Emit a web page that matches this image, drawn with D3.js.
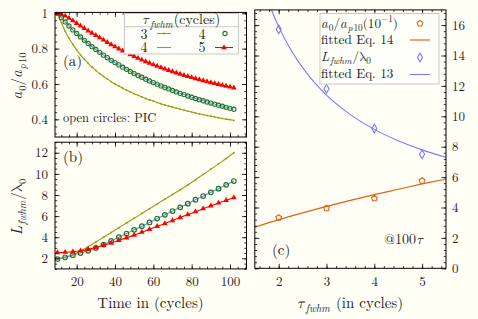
<!DOCTYPE html>
<html><head><meta charset="utf-8">
<script src="https://cdn.jsdelivr.net/npm/d3@7/dist/d3.min.js"></script>
<style>
body{margin:0;background:#fffff6;}
svg{display:block;}
</style></head><body>
<svg id="c" width="478" height="319"></svg>
<script>
// ---------- data ----------
const timeA = [10,12,14,16,18,20,22,24,26,28,30,32,34,36,38,40,42,44,46,48,50,52,54,56,58,60,62,64,66,68,70,72,74,76,78,80,82,84,86,88,90,92,94,96,98,100,102];
const olive3A = [1.000,0.946,0.899,0.859,0.824,0.793,0.765,0.740,0.717,0.696,0.677,0.659,0.643,0.628,0.613,0.600,0.588,0.576,0.565,0.555,0.545,0.536,0.527,0.518,0.510,0.503,0.495,0.488,0.481,0.475,0.469,0.463,0.457,0.452,0.446,0.441,0.436,0.431,0.427,0.422,0.418,0.413,0.409,0.405,0.401,0.398,0.394];
const pic4A = [1.000,0.975,0.951,0.928,0.906,0.886,0.866,0.847,0.829,0.811,0.795,0.779,0.763,0.749,0.734,0.721,0.708,0.695,0.683,0.671,0.659,0.648,0.638,0.627,0.617,0.608,0.598,0.589,0.580,0.572,0.563,0.555,0.547,0.540,0.532,0.525,0.518,0.511,0.505,0.498,0.492,0.486,0.480,0.474,0.468,0.462,0.457];
const red5A = [1.000,0.995,0.985,0.972,0.958,0.943,0.929,0.915,0.901,0.888,0.875,0.862,0.849,0.836,0.823,0.811,0.799,0.788,0.777,0.766,0.756,0.746,0.736,0.727,0.718,0.709,0.701,0.693,0.685,0.677,0.670,0.663,0.656,0.649,0.643,0.637,0.631,0.625,0.619,0.614,0.608,0.603,0.598,0.593,0.588,0.583,0.578];
const timeB = [10,14,18,22,26,30,34,38,42,46,50,54,58,62,66,70,74,78,82,86,90,94,98,102];
const theory4A = [1.000,0.951,0.906,0.866,0.829,0.795,0.763,0.734,0.708,0.683,0.659,0.638,0.617,0.598,0.580,0.563,0.547,0.532,0.518,0.505,0.492,0.480,0.468,0.457];
const olive3B = [1.95,2.10,2.35,2.70,3.10,3.55,4.00,4.45,4.90,5.35,5.80,6.25,6.70,7.15,7.60,8.05,8.50,8.95,9.45,9.95,10.45,10.95,11.45,12.00];
const pic4B = [1.93,2.10,2.30,2.50,2.72,2.98,3.30,3.65,4.00,4.35,4.70,5.05,5.40,5.77,6.12,6.48,6.83,7.18,7.55,7.90,8.25,8.60,8.96,9.32];
const theory4B = [1.93,2.10,2.30,2.50,2.72,2.98,3.30,3.65,4.00,4.35,4.70,5.05,5.40,5.77,6.12,6.48,6.83,7.18,7.55,7.90,8.25,8.60,8.96,9.32];
const red5B = [2.55,2.58,2.63,2.72,2.85,3.02,3.22,3.45,3.70,3.95,4.20,4.48,4.75,5.03,5.30,5.58,5.86,6.14,6.42,6.70,6.98,7.25,7.50,7.75];
const tauPts = [2,3,4,5];
const a0Pts = [3.33,3.95,4.60,5.76];
const LPts = [15.72,11.81,9.20,7.50];
const tauFit14 = [1.5,2,2.5,3,3.5,4,4.5,5,5.5];
const fit14 = [2.70,3.20,3.65,4.07,4.47,4.85,5.20,5.55,5.87];
const tauFit13 = [1.85,2,2.25,2.5,2.75,3,3.5,4,4.5,5,5.5];
const fit13 = [17.0,15.9,14.4,13.2,12.21,11.39,10.11,9.14,8.39,7.79,7.30];
const ticksA = [0.4,0.6,0.8,1];
const ticksB = [2,4,6,8,10,12];
const ticksT = [20,40,60,80,100];
const ticksTau = [2,3,4,5];
const ticksC = [0,2,4,6,8,10,12,14,16];

// ---------- colours ----------
const C = {olive:"#9c9c12", blue:"#7f7fff", green:"#1f7a1f", red:"#ff0000", orange:"#e0601c", violet:"#7a7aff"};
const FONT = "Latin Modern Roman, Latin Modern Math, CMU Serif, Liberation Serif, serif";
const TXT = "#222";

const svg = d3.select("#c");
svg.append("rect").attr("width",478).attr("height",319).attr("fill","#fffff6");

// ---------- scales ----------
const xT = d3.scaleLinear().domain([8.7,108.6]).range([55,246.5]);
const yA = d3.scaleLinear().domain([0.3,1.005]).range([137,12.4]);
const yB = d3.scaleLinear().domain([1,13]).range([268.9,142.2]);
const xC = d3.scaleLinear().domain([1.5,5.5]).range([254.8,446]);
const yC = d3.scaleLinear().domain([0,17]).range([268.3,9.9]);

function rich(sel, parts, fs){
  let cur = 0, prevItal = false;
  parts.forEach(p=>{
    const off = p.sub ? fs*0.25 : (p.sup ? -fs*0.4 : 0);
    const ts = sel.append("tspan").text(p.t).attr("dy", off-cur);
    if(prevItal) ts.attr("dx", 1);
    cur = off;
    ts.attr("font-size", (p.sub||p.sup) ? fs*0.7 : fs);
    if(p.i) ts.attr("font-style","italic");
    prevItal = !!p.i;
  });
}

function axisG(g, fn, scale, vals, size, fmt, tr, pad){
  const a = fn(scale).tickValues(vals).tickSizeInner(size).tickSizeOuter(0).tickPadding(pad||7).tickFormat(fmt||"");
  const gg = g.append("g").attr("transform",tr).call(a);
  gg.attr("font-family",FONT).attr("font-size",13);
  gg.select(".domain").remove();
  gg.selectAll("line").attr("stroke","#000").attr("stroke-width",0.8);
  gg.selectAll("text").attr("fill",TXT);
  return gg;
}
function minor(scale, step, sub){
  const [a,b] = scale.domain();
  const out=[]; const d = step/sub;
  for(let v=Math.ceil(a/d-1e-9)*d; v<=b+1e-9; v+=d){ out.push(+v.toFixed(6)); }
  return out;
}
function frame(x, y, o){
  const g = svg.append("g");
  const [x0,x1]=x.range(), [y0,y1]=y.range();
  const xmin = minor(x, o.xs, o.xsub), ymin = minor(y, o.ys, o.ysub);
  const xmaj = minor(x, o.xs, 1), ymaj = minor(y, o.ys, 1);
  axisG(g, d3.axisBottom, x, xmin, -2.2, "", `translate(0,${y0})`);
  axisG(g, d3.axisTop, x, xmin, -2.2, "", `translate(0,${y1})`);
  axisG(g, d3.axisLeft, y, ymin, -2.2, "", `translate(${x0},0)`);
  axisG(g, d3.axisRight, y, ymin, -2.2, "", `translate(${x1},0)`);
  axisG(g, d3.axisBottom, x, xmaj, -4.5, "", `translate(0,${y0})`);
  axisG(g, d3.axisTop, x, xmaj, -4.5, "", `translate(0,${y1})`);
  axisG(g, d3.axisLeft, y, ymaj, -4.5, "", `translate(${x0},0)`);
  axisG(g, d3.axisRight, y, ymaj, -4.5, "", `translate(${x1},0)`);
  if(o.xl) axisG(g, d3.axisBottom, x, o.xl, 0, o.xf||(d=>d), `translate(0,${y0})`, 8).selectAll("line").remove();
  if(o.yl) axisG(g, d3.axisLeft, y, o.yl, 0, o.yf||(d=>d), `translate(${x0},0)`, 7).selectAll("line").remove();
  if(o.yr) axisG(g, d3.axisRight, y, o.yr, 0, o.yf||(d=>d), `translate(${x1},0)`, 6).selectAll("line").remove();
  g.append("rect").attr("x",x0).attr("y",y1).attr("width",x1-x0).attr("height",y0-y1)
    .attr("fill","none").attr("stroke","#000").attr("stroke-width",1);
  return g;
}
function clip(id, x, y){
  const [x0,x1]=x.range(), [y0,y1]=y.range();
  svg.append("clipPath").attr("id",id).append("rect").attr("x",x0).attr("y",y1).attr("width",x1-x0).attr("height",y0-y1);
  return svg.append("g").attr("clip-path",`url(#${id})`);
}
const line = (x,y)=>d3.line().x(d=>x(d[0])).y(d=>y(d[1])).curve(d3.curveMonotoneX);
const zip = (a,b)=>a.map((v,i)=>[v,b[i]]);
const tri = d3.symbol().type(d3.symbolTriangle).size(14);
const dia = d3.symbol().type(d3.symbolDiamond).size(22);
function pent(r){ const p=d3.path(); for(let k=0;k<5;k++){const a=-Math.PI/2+k*2*Math.PI/5; const px=r*Math.cos(a), py=r*Math.sin(a); k?p.lineTo(px,py):p.moveTo(px,py);} p.closePath(); return p.toString(); }

// ---------- panel (a) ----------
const pa = clip("ca", xT, yA);
pa.append("path").attr("d", line(xT,yA)(zip(timeA,olive3A))).attr("fill","none").attr("stroke",C.olive).attr("stroke-width",1.1);
pa.selectAll(".oa").data(zip(timeA,olive3A)).join("circle").attr("cx",d=>xT(d[0])).attr("cy",d=>yA(d[1])).attr("r",0.9).attr("fill",C.olive);
pa.append("path").attr("d", line(xT,yA)(zip(timeB,theory4A))).attr("fill","none").attr("stroke",C.blue).attr("stroke-width",1.1);
pa.selectAll(".ga").data(zip(timeA,pic4A)).join("circle").attr("cx",d=>xT(d[0])).attr("cy",d=>yA(d[1])).attr("r",2.1).attr("fill","none").attr("stroke",C.green).attr("stroke-width",1.1);
pa.append("path").attr("d", line(xT,yA)(zip(timeA,red5A))).attr("fill","none").attr("stroke",C.red).attr("stroke-width",1.1);
pa.selectAll(".ra").data(zip(timeA,red5A)).join("path").attr("d",tri).attr("transform",d=>`translate(${xT(d[0])},${yA(d[1])})`).attr("fill",C.red);
frame(xT, yA, {xs:20, xsub:5, ys:0.2, ysub:5, yl:ticksA, yf:d=>d===1?"1":d3.format(".1f")(d)});

// ---------- panel (b) ----------
const pb = clip("cb", xT, yB);
pb.append("path").attr("d", line(xT,yB)(zip(timeB,olive3B))).attr("fill","none").attr("stroke",C.olive).attr("stroke-width",1.1);
pb.selectAll(".ob").data(zip(timeB,olive3B)).join("circle").attr("cx",d=>xT(d[0])).attr("cy",d=>yB(d[1])).attr("r",1).attr("fill",C.olive);
pb.append("path").attr("d", line(xT,yB)(zip(timeB,theory4B))).attr("fill","none").attr("stroke",C.blue).attr("stroke-width",1.1);
pb.selectAll(".gb").data(zip(timeB,pic4B)).join("circle").attr("cx",d=>xT(d[0])).attr("cy",d=>yB(d[1])).attr("r",2.3).attr("fill","none").attr("stroke",C.green).attr("stroke-width",1.2);
pb.append("path").attr("d", line(xT,yB)(zip(timeB,red5B))).attr("fill","none").attr("stroke",C.red).attr("stroke-width",1.1);
pb.selectAll(".rb").data(zip(timeB,red5B)).join("path").attr("d",tri).attr("transform",d=>`translate(${xT(d[0])},${yB(d[1])})`).attr("fill",C.red);
frame(xT, yB, {xs:20, xsub:5, ys:2, ysub:4, yl:ticksB, xl:ticksT});

// ---------- panel (c) ----------
const pc = clip("cc", xC, yC);
pc.append("path").attr("d", line(xC,yC)(zip(tauFit14,fit14))).attr("fill","none").attr("stroke",C.orange).attr("stroke-width",1.2);
pc.append("path").attr("d", line(xC,yC)(zip(tauFit13,fit13))).attr("fill","none").attr("stroke",C.violet).attr("stroke-width",1.1);
pc.selectAll(".pp").data(zip(tauPts,a0Pts)).join("path").attr("d",pent(3)).attr("transform",d=>`translate(${xC(d[0])},${yC(d[1])})`).attr("fill","none").attr("stroke",C.orange).attr("stroke-width",1.1);
pc.selectAll(".dd").data(zip(tauPts,LPts)).join("path").attr("d",dia).attr("transform",d=>`translate(${xC(d[0])},${yC(d[1])})`).attr("fill","none").attr("stroke",C.violet).attr("stroke-width",1.1);
frame(xC, yC, {xs:1, xsub:5, ys:2, ysub:5, yr:ticksC, xl:ticksTau});

// ---------- texts ----------
const T = (x,y,s,fs,anchor)=>svg.append("text").attr("x",x).attr("y",y).attr("font-family",FONT).attr("fill",TXT).attr("font-size",fs).attr("text-anchor",anchor||"start").text(s);
const R = (x,y,fs,anchor,tr)=>{const t=svg.append("text").attr("font-family",FONT).attr("fill",TXT).attr("font-size",fs).attr("text-anchor",anchor||"start"); if(tr) t.attr("transform",tr); else t.attr("x",x).attr("y",y); return t;};
T(63,66,"(a)",15);
T(63,162,"(b)",15);
T(272,255,"(c)",15);
T(63,122,"open circles: PIC",12.5);
rich(R(384,244,14),[{t:"@100"},{t:"τ",i:true}],14);
T(150.5,308,"Time in (cycles)",15,"middle");
rich(R(350,308,15,"middle"),[{t:"τ",i:true},{t:"fwhm",i:true,sub:true},{t:" (in cycles)"}],15);
rich(R(0,0,15,"middle","translate(22,76) rotate(-90)"),[{t:"a",i:true},{t:"0",sub:true},{t:"/"},{t:"a",i:true},{t:"p",i:true,sub:true},{t:"10",sub:true}],15);
rich(R(0,0,15,"middle","translate(22,207) rotate(-90)"),[{t:"L",i:true},{t:"fwhm",i:true,sub:true},{t:"/"},{t:"λ"},{t:"0",sub:true}],15);

// legend (a)
const lg = svg.append("g");
lg.append("rect").attr("x",124.5).attr("y",13.5).attr("width",114).attr("height",40.5).attr("fill","#fffff9").attr("stroke","#c8c8c8").attr("stroke-width",1);
lg.append("line").attr("x1",124.5).attr("x2",238.5).attr("y1",26.7).attr("y2",26.7).attr("stroke","#c8c8c8");
rich(R(181,24,14,"middle"),[{t:"τ",i:true},{t:"fwhm",i:true,sub:true},{t:"(cycles)"}],14);
T(144,38.5,"3",14,"middle"); T(144,52,"4",14,"middle");
T(202,38.5,"4",14,"middle"); T(202,52,"5",14,"middle");
lg.append("line").attr("x1",157).attr("x2",171).attr("y1",33.5).attr("y2",33.5).attr("stroke",C.olive).attr("stroke-width",1.1);
lg.append("circle").attr("cx",164).attr("cy",33.5).attr("r",1).attr("fill",C.olive);
lg.append("line").attr("x1",157).attr("x2",171).attr("y1",47.5).attr("y2",47.5).attr("stroke",C.blue).attr("stroke-width",1.1);
lg.append("circle").attr("cx",225).attr("cy",33.5).attr("r",2.1).attr("fill","none").attr("stroke",C.green).attr("stroke-width",1.1);
lg.append("line").attr("x1",215).attr("x2",233).attr("y1",47.5).attr("y2",47.5).attr("stroke",C.red).attr("stroke-width",1.1);
lg.append("path").attr("d",tri).attr("transform","translate(224,47.5)").attr("fill",C.red);

// legend (c)
const lc = svg.append("g");
lc.append("rect").attr("x",320).attr("y",13.5).attr("width",119).attr("height",70.5).attr("fill","#fffff9").attr("stroke","#c8c8c8").attr("stroke-width",1);
rich(R(321,27.5,13.2),[{t:"a",i:true},{t:"0",sub:true},{t:"/"},{t:"a",i:true},{t:"p",i:true,sub:true},{t:"10",sub:true},{t:"(10"},{t:"−1",sup:true},{t:")"}],13.2);
T(321,44,"fitted Eq. 14",13.2);
rich(R(321,61,13.2),[{t:"L",i:true},{t:"fwhm",i:true,sub:true},{t:"/"},{t:"λ"},{t:"0",sub:true}],13.2);
T(321,78,"fitted Eq. 13",13.2);
lc.append("path").attr("d",pent(3)).attr("transform","translate(420,23.5)").attr("fill","none").attr("stroke",C.orange).attr("stroke-width",1.1);
lc.append("line").attr("x1",410).attr("x2",430).attr("y1",40).attr("y2",40).attr("stroke",C.orange).attr("stroke-width",1.2);
lc.append("path").attr("d",dia).attr("transform","translate(420,57.5)").attr("fill","none").attr("stroke",C.violet).attr("stroke-width",1.1);
lc.append("line").attr("x1",410).attr("x2",430).attr("y1",74.5).attr("y2",74.5).attr("stroke",C.violet).attr("stroke-width",1.1);
</script></body></html>
